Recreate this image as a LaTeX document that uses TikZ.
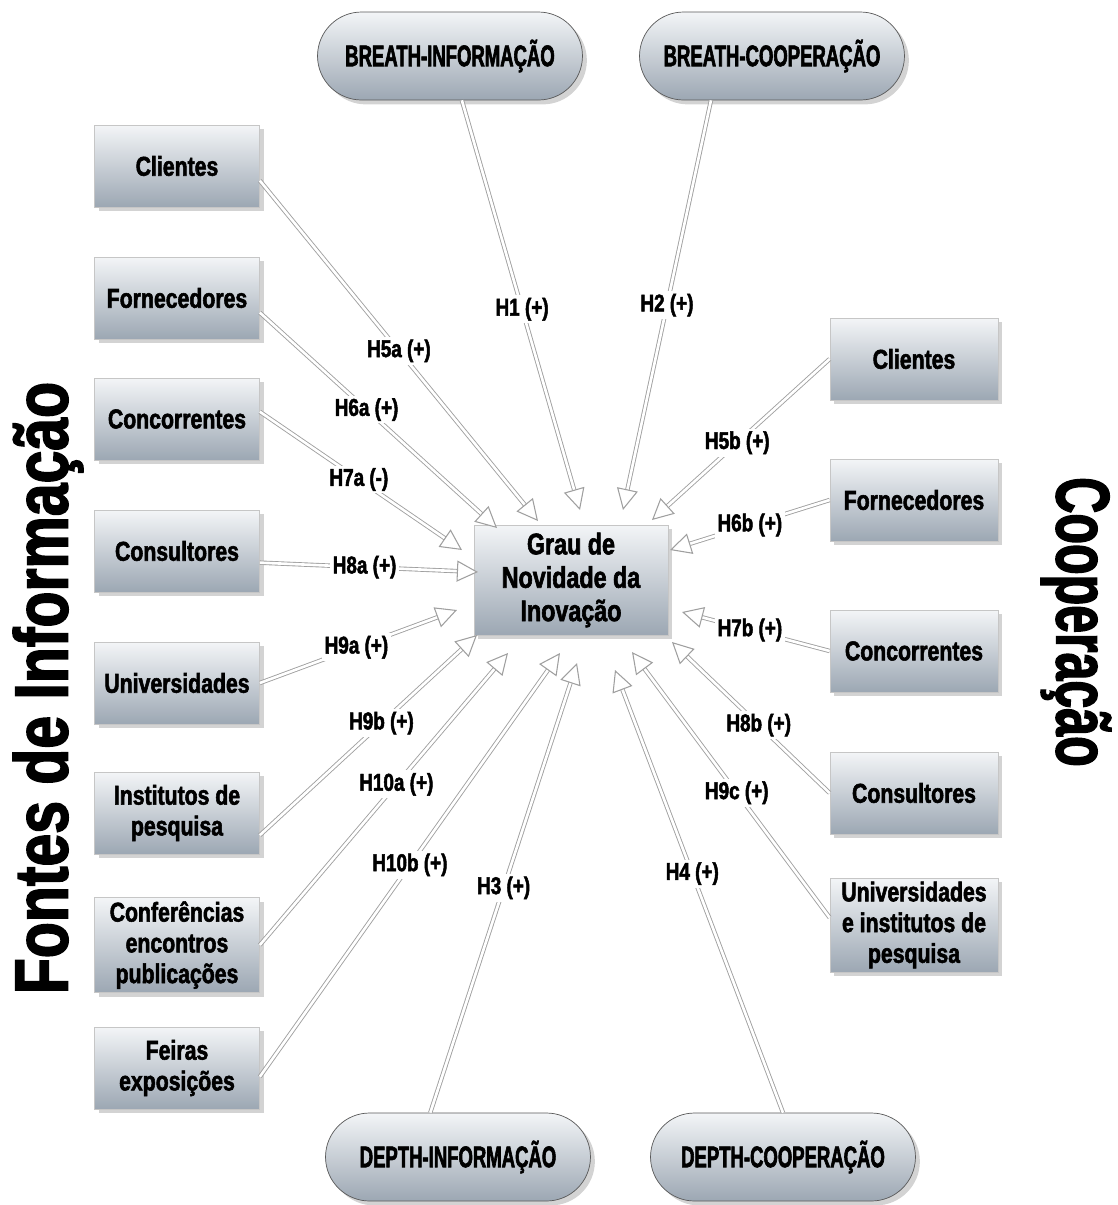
\documentclass[tikz,border=0pt]{standalone}
\usepackage{fontspec}
\setmainfont{Liberation Sans}
\newfontfamily\impact[FakeStretch=0.78,FakeBold=2]{Liberation Sans}
\newfontfamily\impactcaps[FakeStretch=0.62,FakeBold=2]{Liberation Sans}
\usetikzlibrary{arrows.meta,shadows}
\definecolor{boxtop}{HTML}{F3F5F7}
\definecolor{boxbot}{HTML}{9CA7B3}
\colorlet{arrcol}{gray!75}
\tikzstyle{shaded}=[top color=boxtop,bottom color=boxbot,draw=gray!45,thin,
  drop shadow={shadow xshift=2.5pt,shadow yshift=-2.5pt,opacity=0.35}]
\tikzstyle{source}=[shaded,minimum width=3.3cm,minimum height=1.64cm,align=center,inner sep=2pt,
  font=\impact\bfseries\fontsize{15.5}{17.5}\selectfont]
\tikzstyle{dimension}=[shaded,rounded corners=0.88cm,minimum width=5.3cm,minimum height=1.76cm,
  draw=gray!70!black,font=\impactcaps\bfseries\fontsize{17}{20}\selectfont]
\tikzstyle{outcome}=[shaded,minimum width=3.88cm,minimum height=2.2cm,align=center,
  font=\impact\bfseries\fontsize{17}{19}\selectfont]
\tikzstyle{hyp}=[double=white,draw=arrcol,line width=0.5pt,double distance=1.5pt,
  -{Triangle[open,length=12pt,width=12pt,line width=0.6pt,fill=white]}]
\tikzstyle{hlabel}=[fill=white,inner sep=1.5pt,font=\impact\bfseries\fontsize{13.8}{14}\selectfont]
\tikzstyle{side}=[font=\impact\bfseries\fontsize{43}{43}\selectfont]

\begin{document}
\begin{tikzpicture}[x=0.02cm,y=-0.02cm]
  \useasboundingbox (0,0) rectangle (1118,1205);

  % DIMENSIONS
  \node[dimension] (binf)  at (450,56)   {BREATH-INFORMAÇÃO};
  \node[dimension] (bcoop) at (772,56)   {BREATH-COOPERAÇÃO};
  \node[dimension] (dinf)  at (458,1157) {DEPTH-INFORMAÇÃO};
  \node[dimension] (dcoop) at (783,1157) {DEPTH-COOPERAÇÃO};

  % CENTRE
  \node[outcome] (gnov) at (571,580) {Grau de\\Novidade da\\Inovação};

  % SOURCES OF INFORMATION
  \node[source] (icl) at (177,166)  {Clientes};
  \node[source] (ifo) at (177,298)  {Fornecedores};
  \node[source] (ico) at (177,419)  {Concorrentes};
  \node[source] (icn) at (177,551)  {Consultores};
  \node[source] (iun) at (177,683)  {Universidades};
  \node[source] (iin) at (177,813)  {Institutos de\\pesquisa};
  \node[source] (icf) at (177,945)  {Conferências\\encontros\\publicações};
  \node[source] (ife) at (177,1068) {Feiras\\exposições};

  % COOPERATION
  \node[source,minimum width=3.36cm] (ccl) at (914,359) {Clientes};
  \node[source,minimum width=3.36cm] (cfo) at (914,500) {Fornecedores};
  \node[source,minimum width=3.36cm] (cco) at (914,651) {Concorrentes};
  \node[source,minimum width=3.36cm] (ccn) at (914,793) {Consultores};
  \node[source,minimum width=3.36cm] (cun) at (914,925) {Universidades\\e institutos de\\pesquisa};

  % SIDE TITLES
  \node[side,rotate=90] (tinf) at (48,688) {Fontes de Informação};
  \node[side,rotate=-90,xscale=0.85] (tcoop) at (1076,622) {Cooperação};

  % TIPS
  \coordinate (tH1)  at (580,510);
  \coordinate (tH2)  at (623,510);
  \coordinate (tH5a) at (538,521);
  \coordinate (tH6a) at (497,528);
  \coordinate (tH7a) at (462,550);
  \coordinate (tH8a) at (478,572);
  \coordinate (tH9a) at (457,610);
  \coordinate (tH9b) at (477,635);
  \coordinate (tH10a) at (508,653);
  \coordinate (tH10b) at (560,653);
  \coordinate (tH3)  at (577,663);
  \coordinate (tH4)  at (615,670);
  \coordinate (tH9c) at (632,652);
  \coordinate (tH8b) at (672,642);
  \coordinate (tH7b) at (682,612);
  \coordinate (tH6b) at (670,550);
  \coordinate (tH5b) at (652,520);

  % HYPOTHESES
  \draw[hyp] (binf.-75)  -- (tH1)  node[hlabel,pos=0.51] {H1 (+)};
  \draw[hyp] (bcoop.-144) -- (tH2) node[hlabel,pos=0.50] {H2 (+)};
  \draw[hyp] (dinf.122)  -- (tH3)  node[hlabel,pos=0.50] {H3 (+)};
  \draw[hyp] (dcoop.north) -- (tH4) node[hlabel,pos=0.54] {H4 (+)};
  \draw[hyp] (icl.-10) -- (tH5a)  node[hlabel,pos=0.50] {H5a (+)};
  \draw[hyp] (ifo.-10) -- (tH6a)  node[hlabel,pos=0.45] {H6a (+)};
  \draw[hyp] (ico.5)   -- (tH7a)  node[hlabel,pos=0.49] {H7a (-)};
  \draw[hyp] (icn.-8)  -- (tH8a)  node[hlabel,pos=0.48] {H8a (+)};
  \draw[hyp] (iun.east) -- (tH9a) node[hlabel,pos=0.49] {H9a (+)};
  \draw[hyp] (iin.-15) -- (tH9b)  node[hlabel,pos=0.56] {H9b (+)};
  \draw[hyp] (icf.east) -- (tH10a) node[hlabel,pos=0.55] {H10a (+)};
  \draw[hyp] (ife.-6)  -- (tH10b) node[hlabel,pos=0.50] {H10b (+)};
  \draw[hyp] (ccl.west) -- (tH5b) node[hlabel,pos=0.52] {H5b (+)};
  \draw[hyp] (cfo.west) -- (tH6b) node[hlabel,pos=0.50] {H6b (+)};
  \draw[hyp] (cco.west) -- (tH7b) node[hlabel,pos=0.54] {H7b (+)};
  \draw[hyp] (ccn.west) -- (tH8b) node[hlabel,pos=0.45] {H8b (+)};
  \draw[hyp] (cun.175) -- (tH9c)  node[hlabel,pos=0.47] {H9c (+)};

\end{tikzpicture}
\end{document}
